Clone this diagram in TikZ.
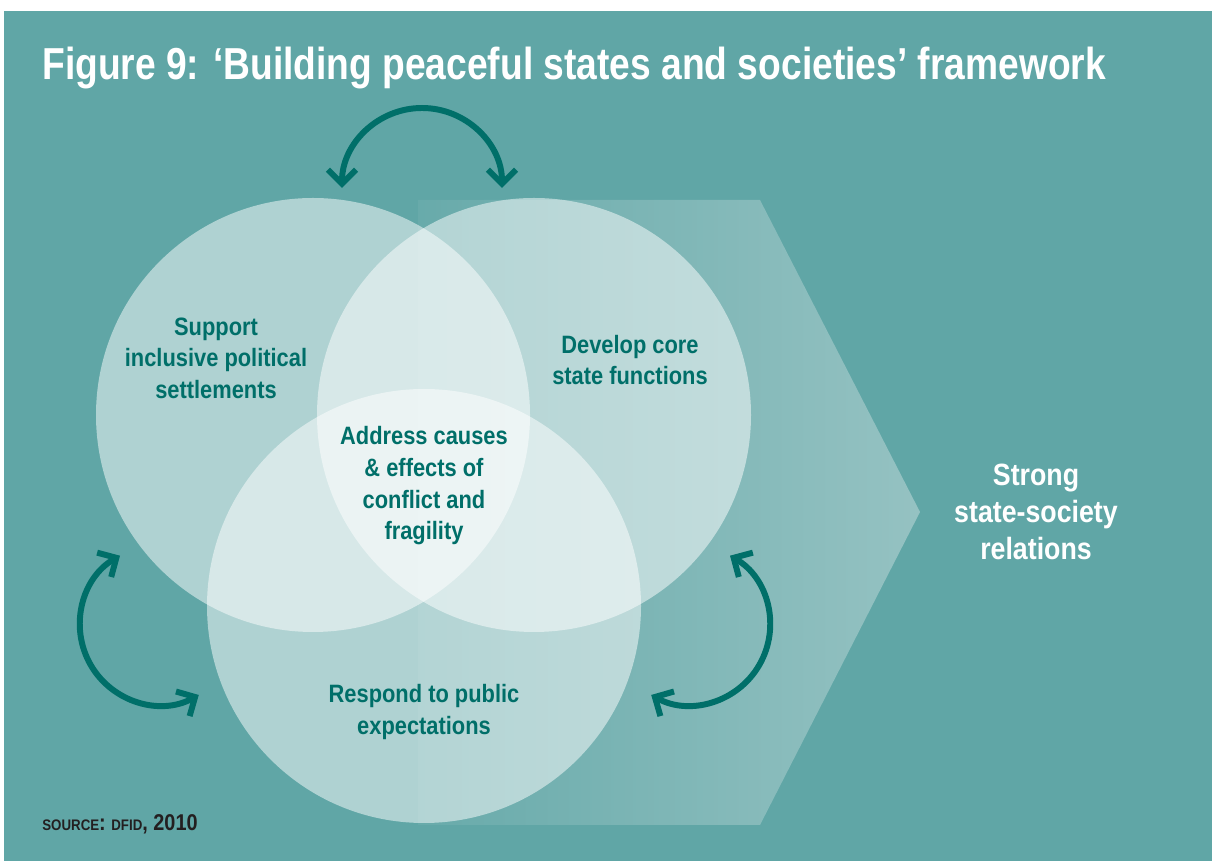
\documentclass[tikz,border=0pt]{standalone}
\usepackage{fontspec}
\usepackage{xcolor}
\usetikzlibrary{arrows.meta}
\newfontfamily\figfont{Liberation Sans}[FakeStretch=0.87]
\newfontfamily\titlefont{Liberation Sans}[FakeStretch=0.83]
\definecolor{tealbg}{HTML}{60A6A6}
\definecolor{tealdark}{HTML}{006F69}
\definecolor{arrowlight}{HTML}{95C2C2}
\definecolor{sourcegray}{HTML}{231F20}

\begin{document}
\begin{tikzpicture}[x=0.02cm,y=0.02cm,circle label/.style={align=center,text=tealdark,font=\figfont\fontsize{14.3}{18}\selectfont\bfseries}]
\tikzstyle{cycle arrow} = [draw=tealdark,line width=3.4pt,{Straight Barb[length=8pt,width=16pt]}-{Straight Barb[length=8pt,width=16pt]}]
\tikzstyle{venn circle} = [fill=white,fill opacity=0.5]

\useasboundingbox (0,0) rectangle (1212,861);
\fill[white] (0,0) rectangle (1212,861);
\fill[tealbg] (4,0) rectangle (1212,850);

\node[anchor=base west,inner sep=0pt,text=white,font=\titlefont\fontsize{25.5}{29}\selectfont\bfseries] (title) at (42,781) {Figure 9: ‘Building peaceful states and societies’ framework};

% big arrow
\shade[left color=tealbg!95!white,right color=arrowlight] (418,661) -- (760,661) -- (920,349) -- (760,36) -- (418,36) -- cycle;

% circles
\coordinate (politics) at (313,446);
\coordinate (state) at (534,446);
\coordinate (public) at (424,255);
\fill[venn circle] (politics) circle (217);
\fill[venn circle] (state) circle (217);
\fill[venn circle] (public) circle (217);

\node[circle label] (support) at (216,503) {Support\\inclusive political\\settlements};
\node[circle label] (develop) at (630,501) {Develop core\\state functions};
\node[circle label] (address) at (424,375) {Address causes\\\& effects of\\conflict and\\fragility};
\node[circle label] (respond) at (424,149) {Respond to public\\expectations};

\node[align=center,text=white,font=\figfont\fontsize{17.5}{21}\selectfont\bfseries] (strong) at (1036,349) {Strong\\state-society\\relations};

% arrows
\coordinate (topstart) at (342,673);
\coordinate (leftstart) at (120,305.3);
\coordinate (rightstart) at (730,305.3);
\draw[cycle arrow] (topstart) arc[start angle=180,end angle=0,radius=80];
\draw[cycle arrow] (leftstart) arc[start angle=120,end angle=299,radius=80];
\draw[cycle arrow] (rightstart) arc[start angle=60,end angle=-119,radius=80];

% Source
\node[anchor=base west,inner sep=0pt,text=sourcegray,font=\figfont\bfseries] (source) at (42,31) {\fontsize{8.7}{10}\selectfont SOURCE\fontsize{13}{14}\selectfont: \fontsize{8.7}{10}\selectfont DFID\fontsize{13}{14}\selectfont, 2010};

\end{tikzpicture}
\end{document}
